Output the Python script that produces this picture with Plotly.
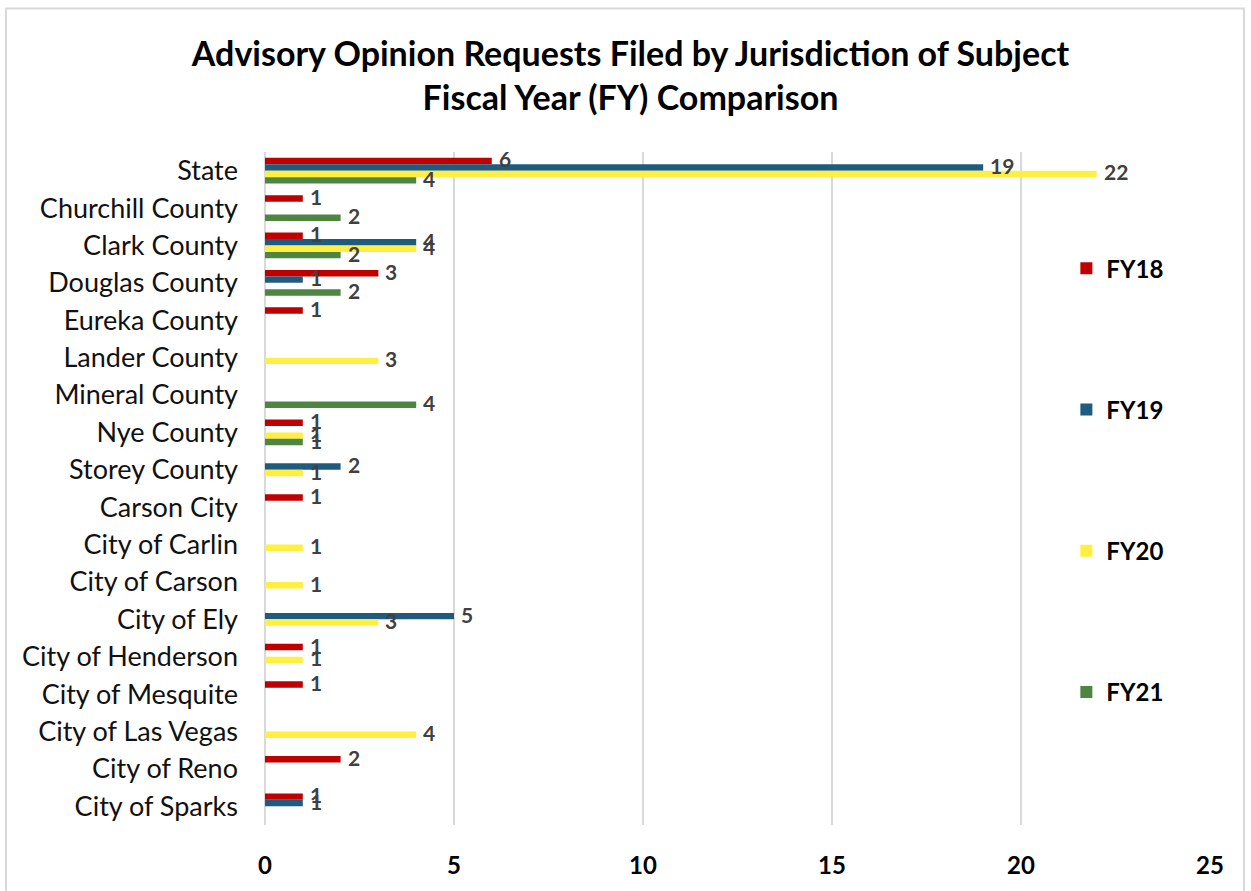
import plotly.graph_objects as go

categories = ["State", "Churchill County", "Clark County", "Douglas County", "Eureka County",
              "Lander County", "Mineral County", "Nye County", "Storey County", "Carson City",
              "City of Carlin", "City of Carson", "City of Ely", "City of Henderson",
              "City of Mesquite", "City of Las Vegas", "City of Reno", "City of Sparks"]
fy18 = [6, 1, 1, 3, 1, 0, 0, 1, 0, 1, 0, 0, 0, 1, 1, 0, 2, 1]
fy19 = [19, 0, 4, 1, 0, 0, 0, 0, 2, 0, 0, 0, 5, 0, 0, 0, 0, 1]
fy20 = [22, 0, 4, 0, 0, 3, 0, 1, 1, 0, 1, 1, 3, 1, 0, 4, 0, 0]
fy21 = [4, 2, 2, 2, 0, 0, 4, 1, 0, 0, 0, 0, 0, 0, 0, 0, 0, 0]
series = [("FY18", fy18, "#C00000"), ("FY19", fy19, "#1F5B7E"),
          ("FY20", fy20, "#FFEF41"), ("FY21", fy21, "#4E8541")]
x_ticks = [0, 5, 10, 15, 20, 25]

W, H = 1251, 891
L, R, T, B = 265, 41, 152, 64
PW, PH = W - L - R, H - T - B
BARGAP = 0.31
band_px = PH / len(categories)
bar_px = band_px * (1 - BARGAP) / len(series)

fig = go.Figure()
annotations = []
for i, (name, vals, col) in enumerate(series):
    fig.add_trace(go.Bar(
        y=categories, x=vals, name=name, orientation="h",
        marker=dict(color=col, line=dict(width=0)),
        legendgroup=name,
    ))
    for cat, v in zip(categories, vals):
        if v:
            annotations.append(dict(
                x=v, y=cat, xref="x", yref="y", text=str(v), showarrow=False,
                xanchor="left", yanchor="middle", xshift=5,
                yshift=-(i - (len(series) - 1) / 2) * bar_px + 2,
                font=dict(family="Lato", size=21, color="#404040", weight="bold"),
            ))

fig.update_layout(
    width=W, height=H,
    margin=dict(l=L, r=R, t=T, b=B),
    paper_bgcolor="white", plot_bgcolor="white",
    barmode="group", bargap=BARGAP, bargroupgap=0,
    title=dict(text="Advisory Opinion Requests Filed by Jurisdiction of Subject<br>Fiscal Year (FY) Comparison",
               x=0.504, xanchor="center", y=0.926, yanchor="middle",
               font=dict(family="Lato", size=34, color="black", weight="bold")),
    font=dict(family="Lato"),
    legend=dict(x=0.848, xanchor="left", y=0.86, yanchor="top",
                traceorder="grouped", tracegroupgap=107,
                font=dict(family="Lato", size=24, color="black", weight="bold"),
                bgcolor="rgba(0,0,0,0)", itemwidth=30),
    xaxis=dict(range=[0, 25], tickvals=x_ticks, showgrid=True, gridcolor="#D9D9D9", gridwidth=2,
               zeroline=True, zerolinecolor="#D9D9D9", zerolinewidth=2,
               tickfont=dict(family="Lato", size=24, color="black", weight="bold"),
               ticks="", ticklabelstandoff=24),
    yaxis=dict(range=[len(categories) - 0.5, -0.5], showgrid=False, ticks="", ticklabelstandoff=26,
               tickfont=dict(family="Lato", size=27, color="#111111")),
    annotations=annotations,
    shapes=[dict(type="rect", xref="paper", yref="paper",
                 x0=(6 - L) / PW, x1=(1244 - L) / PW,
                 y0=-(H + 20 - T - PH) / PH, y1=(H - B - 8) / PH,
                 line=dict(color="#D9D9D9", width=2), layer="below")],
)

fig.write_html("out.html")
